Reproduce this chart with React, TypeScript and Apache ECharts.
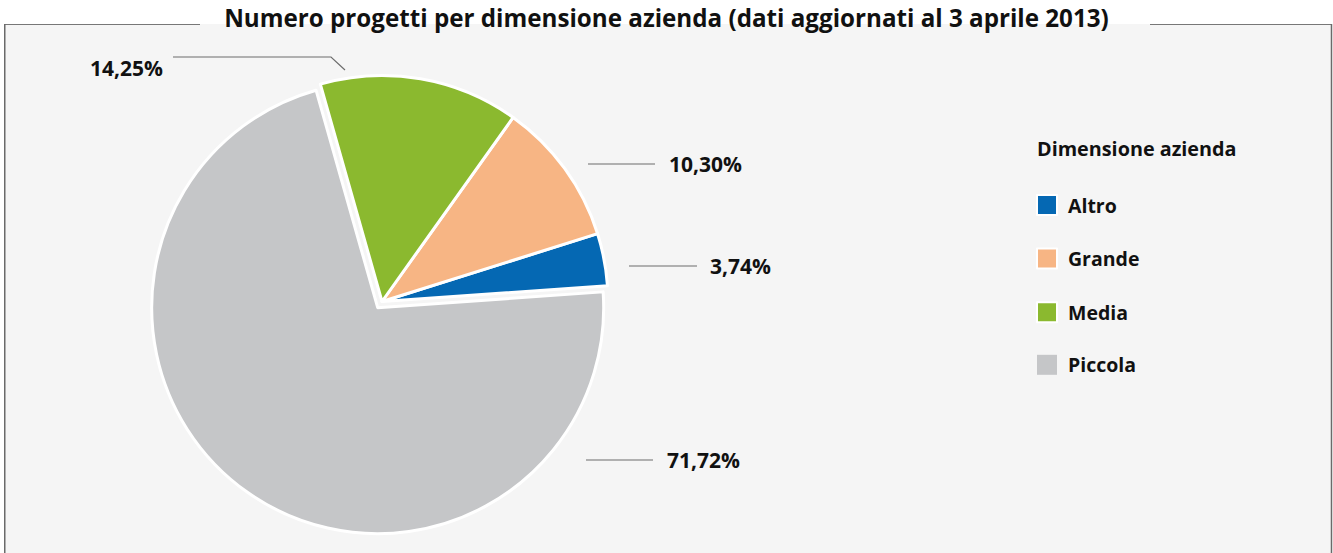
import React, { useEffect, useRef } from "react";
import * as echarts from "echarts";

const CATEGORIES = ["Altro", "Grande", "Media", "Piccola"];
const VALUES = [3.74, 10.3, 14.25, 71.72];
const COLORS = ["#0568b3", "#f7b584", "#8bb92f", "#c5c6c8"];
const TITLE = "Numero progetti per dimensione azienda (dati aggiornati al 3 aprile 2013)";
const LEGEND_TITLE = "Dimensione azienda";
const EXPLODED = "Piccola";

// label placement (layout only)
const LABEL_SPOTS: any[] = [
  { line: [[629, 266], [629, 266], [697, 266]], x: 710, y: 266, align: "left" },
  { line: [[588, 164], [588, 164], [655, 164]], x: 669, y: 164, align: "left" },
  { line: [[345, 70], [331, 57], [173, 57]], x: 163, y: 68, align: "right" },
  { line: [[586, 460], [586, 460], [653, 460]], x: 667, y: 460, align: "left" },
];

const FONT = "'Open Sans', Lato, sans-serif";
const CENTER = [382, 301.5];
const RADIUS = 226;
const START = 4;
const OFFSET = 7.5;

export default function App() {
  const ref = useRef<HTMLDivElement>(null);
  useEffect(() => {
    if (!ref.current) return;
    const chart = echarts.init(ref.current, undefined, { renderer: "svg" });

    // offset of the exploded slice along its mid angle
    const total = VALUES.reduce((a, b) => a + b, 0);
    const ex = CATEGORIES.indexOf(EXPLODED);
    const before = VALUES.slice(0, ex).reduce((a, b) => a + b, 0);
    const mid = ((START + ((before + VALUES[ex] / 2) / total) * 360) * Math.PI) / 180;
    const exCenter = [CENTER[0] + OFFSET * Math.cos(mid), CENTER[1] - OFFSET * Math.sin(mid)];

    const labelCfg = {
      show: true,
      position: "outside",
      fontFamily: FONT,
      fontWeight: "bold",
      fontSize: 21,
      color: "#111",
      formatter: (p: any) => Number(p.value).toFixed(2).replace(".", ",") + "%",
    };
    const labelLayout = (params: any) => {
      const s = LABEL_SPOTS[params.dataIndex];
      return { x: s.x, y: s.y, align: s.align, verticalAlign: "middle", labelLinePoints: s.line };
    };
    const hidden = {
      itemStyle: { color: "rgba(0,0,0,0)", borderWidth: 0 },
      label: { show: false },
      labelLine: { show: false },
    };
    const makeData = (visible: (i: number) => boolean) =>
      CATEGORIES.map((name, i) =>
        visible(i)
          ? { name, value: VALUES[i], itemStyle: { color: COLORS[i] } }
          : { name, value: VALUES[i], ...hidden }
      );
    const base = {
      type: "pie",
      radius: RADIUS,
      startAngle: START,
      clockwise: false,
      emphasis: { disabled: true },
      itemStyle: { borderColor: "#ffffff", borderWidth: 3 },
      label: labelCfg,
      labelLine: { show: true, length: 10, length2: 60, lineStyle: { color: "#6d6d6d", width: 1.2 } },
      labelLayout,
    };

    chart.setOption({
      animation: false,
      backgroundColor: "#ffffff",
      title: [
        {
          text: TITLE,
          left: "center",
          top: 4.5,
          padding: 0,
          textStyle: { fontFamily: FONT, fontWeight: "bold", fontSize: 24.2, lineHeight: 26, color: "#111" },
        },
        {
          text: LEGEND_TITLE,
          left: 1037,
          top: 138,
          padding: 0,
          textStyle: { fontFamily: FONT, fontWeight: "bold", fontSize: 19.8, color: "#111" },
        },
      ],
      graphic: [
        { type: "rect", z: -10, shape: { x: 4, y: 24, width: 1328, height: 540 }, style: { fill: "#f5f5f5" } },
        { type: "line", z: -5, shape: { x1: 4, y1: 24.5, x2: 200, y2: 24.5 }, style: { stroke: "#777", lineWidth: 1.2 } },
        { type: "line", z: -5, shape: { x1: 1150, y1: 24.5, x2: 1332, y2: 24.5 }, style: { stroke: "#777", lineWidth: 1.2 } },
        { type: "line", z: -5, shape: { x1: 4.75, y1: 24, x2: 4.75, y2: 553 }, style: { stroke: "#6a6a6a", lineWidth: 1.5 } },
        { type: "line", z: -5, shape: { x1: 1331.5, y1: 24, x2: 1331.5, y2: 553 }, style: { stroke: "#6a6a6a", lineWidth: 1.5 } },
      ],
      legend: {
        orient: "vertical",
        left: 1036,
        top: 194,
        padding: 0,
        itemWidth: 20,
        itemHeight: 20,
        itemGap: 31.6,
        icon: "rect",
        selectedMode: false,
        data: CATEGORIES.map((name, i) => ({ name, itemStyle: { color: COLORS[i] } })),
        textStyle: {
          fontFamily: FONT,
          fontWeight: "bold",
          fontSize: 19.5,
          lineHeight: 20,
          color: "#111",
          padding: [0, 0, 0, 6],
        },
      },
      series: [
        { ...base, name: "main", center: CENTER, data: makeData((i) => i !== ex) },
        { ...base, name: "exploded", center: exCenter, data: makeData((i) => i === ex) },
      ],
    });
    return () => chart.dispose();
  }, []);
  return <div ref={ref} style={{ position: "fixed", left: 0, top: 0, width: 1333, height: 553 }} />;
}
